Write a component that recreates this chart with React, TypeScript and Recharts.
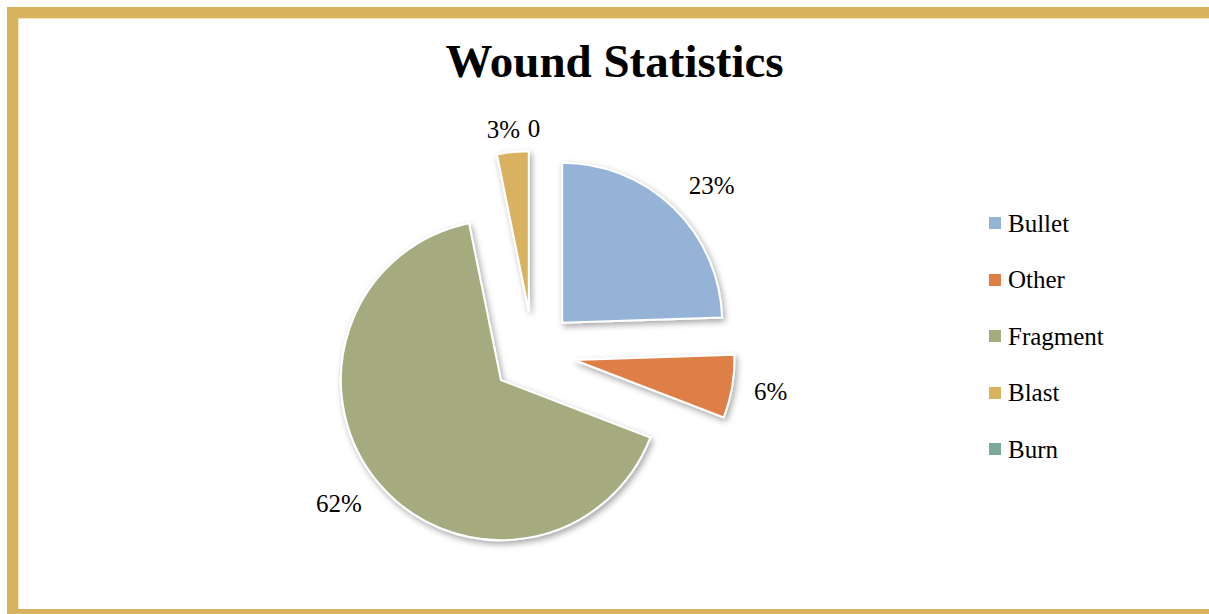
import React from "react";
import { PieChart, Pie, Cell, Legend, Sector } from "recharts";

// Wound categories, in the order Excel draws them (clockwise from 12 o'clock)
const categories = ["Bullet", "Other", "Fragment", "Blast", "Burn"];
const values = [23, 6, 62, 3, 0];
const colors = ["#95B3D7", "#DE7F46", "#A5AB7F", "#D9B25E", "#7AA89B"];

const data = categories.map((name, i) => ({ name, value: values[i] }));

const RAD = Math.PI / 180;
const EXPLODE = 42; // how far every slice is pulled out of the pie
const FONT = '"Times New Roman", "Liberation Serif", serif';
const GOLD = "#D9B25E";

/**
 * Draws a slice pushed outwards along its mid angle (exploded pie).
 */
const ExplodedSlice = (props: any) => {
  const { cx, cy, midAngle, innerRadius, outerRadius, startAngle, endAngle, fill } = props;
  const dx = EXPLODE * Math.cos(-midAngle * RAD);
  const dy = EXPLODE * Math.sin(-midAngle * RAD);
  return (
    <Sector
      cx={cx + dx}
      cy={cy + dy}
      innerRadius={innerRadius}
      outerRadius={outerRadius}
      startAngle={startAngle}
      endAngle={endAngle}
      fill={fill}
      stroke="#fff"
      strokeWidth={2}
      filter="url(#sliceShadow)"
    />
  );
};

/**
 * Value labels outside the exploded slices
 */
const renderLabel = (props: any) => {
  const { cx, cy, midAngle, outerRadius, value } = props;
  const cos = Math.cos(-midAngle * RAD);
  const sin = Math.sin(-midAngle * RAD);
  const nearVertical = Math.abs(cos) < 0.3;
  const r = outerRadius + (nearVertical ? 56 : 64);
  // near the top the two small labels sit side by side
  const x = cx + r * cos + (nearVertical ? (cos > -1e-6 ? 1 : -8) : 0);
  const y = cy + (nearVertical ? r : r + 9) * sin;
  const anchor = nearVertical ? "middle" : cos > 0 ? "start" : "end";
  const baseline = nearVertical ? (sin < 0 ? "auto" : "hanging") : "central";
  return (
    <text
      x={x}
      y={y}
      textAnchor={anchor}
      dominantBaseline={baseline}
      fill="#000"
      fontSize={25}
      fontFamily={FONT}
    >
      {value === 0 ? "0" : `${value}%`}
    </text>
  );
};

const renderLegend = () => (
  <div>
    {categories.map((name, i) => (
      <div key={name} style={{ display: "flex", alignItems: "center", height: 56.5 }}>
        <span
          style={{
            display: "inline-block",
            width: 12,
            height: 12,
            background: colors[i],
            marginRight: 7,
          }}
        />
        <span style={{ fontFamily: FONT, fontSize: 25, color: "#000", lineHeight: "29px" }}>
          {name}
        </span>
      </div>
    ))}
  </div>
);

export default function App() {
  return (
    <div
      style={{
        position: "absolute",
        left: 0,
        top: 0,
        width: 1209,
        height: 614,
        overflow: "hidden",
        background: "#fff",
      }}
    >
      {/* shadow used by every slice */}
      <svg width={0} height={0} style={{ position: "absolute" }}>
        <defs>
          <filter
            id="sliceShadow"
            filterUnits="userSpaceOnUse"
            x={0}
            y={0}
            width={1209}
            height={614}
          >
            <feDropShadow dx={2} dy={3} stdDeviation={3} floodColor="#000" floodOpacity={0.35} />
          </filter>
        </defs>
      </svg>

      {/* gold frame */}
      <div
        style={{
          position: "absolute",
          left: 7,
          top: 7,
          width: 1202,
          height: 607,
          boxSizing: "border-box",
          borderStyle: "solid",
          borderColor: GOLD,
          borderWidth: "11px 0 5px 11px",
          boxShadow: "inset 1px 1px 0 #F3E4BE",
        }}
      />

      <div
        style={{
          position: "absolute",
          left: 10,
          top: 38,
          width: 1209,
          textAlign: "center",
          fontFamily: FONT,
          fontWeight: "bold",
          fontSize: 47,
          lineHeight: "46px",
          color: "#000",
        }}
      >
        Wound Statistics
      </div>

      <div style={{ position: "absolute", left: 0, top: 0 }}>
        <PieChart width={1209} height={614}>
          <Pie
            data={data}
            dataKey="value"
            nameKey="name"
            cx={528}
            cy={348}
            outerRadius={160}
            startAngle={90}
            endAngle={-270}
            shape={<ExplodedSlice />}
            label={renderLabel}
            labelLine={false}
            isAnimationActive={false}
          >
            {data.map((d, i) => (
              <Cell key={d.name} fill={colors[i]} />
            ))}
          </Pie>
          <Legend
            layout="vertical"
            content={renderLegend}
            wrapperStyle={{ left: 989, top: 194.75, width: 200 }}
          />
        </PieChart>
      </div>
    </div>
  );
}
